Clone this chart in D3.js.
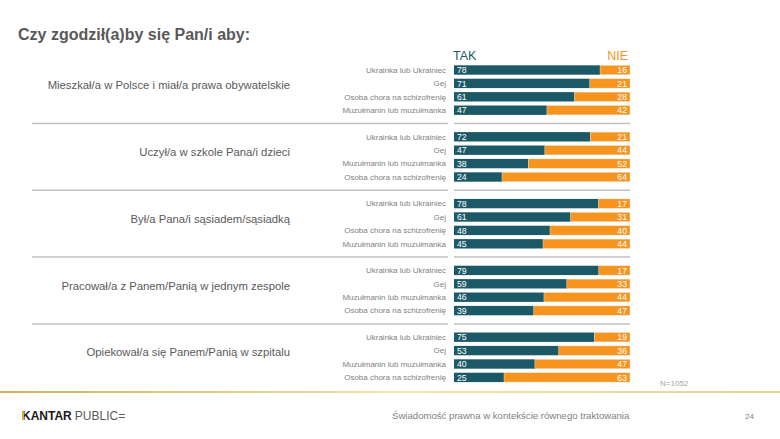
<!DOCTYPE html>
<html>
<head>
<meta charset="utf-8">
<script src="https://cdn.jsdelivr.net/npm/d3@7"></script>
<style>
html,body{margin:0;padding:0;background:#fff;}
svg{display:block;font-family:"Liberation Sans",Arial,sans-serif;}
</style>
</head>
<body>
<svg id="chart" width="780" height="439"></svg>
<script>
const title = "Czy zgodził(a)by się Pan/i aby:";
const groupLabels = [
  "Mieszkał/a w Polsce i miał/a prawa obywatelskie",
  "Uczył/a w szkole Pana/i dzieci",
  "Był/a Pana/i sąsiadem/sąsiadką",
  "Pracował/a z Panem/Panią w jednym zespole",
  "Opiekował/a się Panem/Panią w szpitalu"
];
const rowLabels = [
  ["Ukrainka lub Ukrainiec","Gej","Osoba chora na schizofrenię","Muzułmanin lub muzułmanka"],
  ["Ukrainka lub Ukrainiec","Gej","Muzułmanin lub muzułmanka","Osoba chora na schizofrenię"],
  ["Ukrainka lub Ukrainiec","Gej","Osoba chora na schizofrenię","Muzułmanin lub muzułmanka"],
  ["Ukrainka lub Ukrainiec","Gej","Muzułmanin lub muzułmanka","Osoba chora na schizofrenię"],
  ["Ukrainka lub Ukrainiec","Gej","Muzułmanin lub muzułmanka","Osoba chora na schizofrenię"]
];
const takValues = [
  [78,71,61,47],
  [72,47,38,24],
  [78,61,48,45],
  [79,59,46,39],
  [75,53,40,25]
];
const nieValues = [
  [16,21,28,42],
  [21,44,52,64],
  [17,31,40,44],
  [17,33,44,47],
  [19,36,47,63]
];
const seriesNames = ["TAK","NIE"];
const sampleNote = "N=1052";
const footerText = "Świadomość prawna w kontekście równego traktowania";
const pageNumber = "24";

const TEAL = "#1c5966", ORANGE = "#f7941d";
const svg = d3.select("#chart");

const defs = svg.append("defs");
const grad = defs.append("linearGradient").attr("id","gold").attr("x1","0").attr("x2","1");
grad.append("stop").attr("offset","0").attr("stop-color","#cfb25a");
grad.append("stop").attr("offset","0.5").attr("stop-color","#f2e2a6");
grad.append("stop").attr("offset","1").attr("stop-color","#ead690");

svg.append("text").attr("x",18).attr("y",40).attr("font-size",16).attr("font-weight","bold")
  .attr("fill","#595959").text(title);

const x = d3.scaleLinear().domain([0,1]).range([454,630]);
const gScale = d3.scaleBand().domain(d3.range(groupLabels.length)).range([63.3, 63.3 + 66.8*5]);
const rScale = d3.scaleBand().domain(d3.range(4)).range([0, 13.4*4]).paddingInner(0.3).paddingOuter(0.15);

svg.append("text").attr("x",x(0)-1).attr("y",60).attr("font-size",12.5).attr("fill",TEAL).text(seriesNames[0]);
svg.append("text").attr("x",x(1)-2).attr("y",60).attr("font-size",12.5).attr("fill",ORANGE)
  .attr("text-anchor","end").text(seriesNames[1]);

const rows = [];
groupLabels.forEach((g,gi)=>{
  rowLabels[gi].forEach((r,ri)=>{
    const t = takValues[gi][ri], n = nieValues[gi][ri];
    rows.push({gi, ri, label:r, tak:t, nie:n, share:t/(t+n)});
  });
});
const yTop = d => gScale(d.gi) + rScale(d.ri);
const bh = rScale.bandwidth();

for (let gi=0; gi<groupLabels.length-1; gi++){
  const lastBottom = gScale(gi) + rScale(3) + bh;
  const nextTop = gScale(gi+1) + rScale(0);
  const yy = (lastBottom + nextTop)/2;
  svg.append("line").attr("x1",32).attr("x2",448).attr("y1",yy).attr("y2",yy)
    .attr("stroke","#bfbfbf").attr("stroke-width",1.5);
  svg.append("line").attr("x1",454).attr("x2",630).attr("y1",yy).attr("y2",yy)
    .attr("stroke","#bfbfbf").attr("stroke-width",1.5);
}

svg.selectAll("text.group").data(groupLabels).join("text").attr("class","group")
  .attr("x",290)
  .attr("y",(d,i)=> gScale(i) + (rScale(0) + rScale(3) + bh)/2 - 1)
  .attr("text-anchor","end").attr("font-size",11.3).attr("fill","#595959").text(d=>d);

svg.selectAll("text.row").data(rows).join("text").attr("class","row")
  .attr("x",446).attr("y",d=>yTop(d)+bh/2+2.8)
  .attr("text-anchor","end").attr("font-size",8).attr("fill","#7f7f7f").text(d=>d.label);

svg.selectAll("rect.tak").data(rows).join("rect").attr("class","tak")
  .attr("x",x(0)).attr("y",yTop).attr("height",bh)
  .attr("width",d=>x(d.share)-x(0)).attr("fill",TEAL);
svg.selectAll("rect.nie").data(rows).join("rect").attr("class","nie")
  .attr("x",d=>x(d.share)).attr("y",yTop).attr("height",bh)
  .attr("width",d=>x(1)-x(d.share)).attr("fill",ORANGE)
  .attr("stroke","#e9edf0").attr("stroke-width",0.4);

svg.selectAll("text.tv").data(rows).join("text").attr("class","tv")
  .attr("x",x(0)+3).attr("y",d=>yTop(d)+bh/2+3.1)
  .attr("font-size",8.7).attr("fill","#fff").text(d=>d.tak);
svg.selectAll("text.nv").data(rows).join("text").attr("class","nv")
  .attr("x",x(1)-3).attr("y",d=>yTop(d)+bh/2+3.1).attr("text-anchor","end")
  .attr("font-size",8.7).attr("fill","#fff").text(d=>d.nie);

svg.append("text").attr("x",660).attr("y",386).attr("font-size",8).attr("fill","#a6a6a6").text(sampleNote);

svg.append("rect").attr("x",0).attr("y",391).attr("width",780).attr("height",2).attr("fill","url(#gold)");

const logo = svg.append("text").attr("x",22).attr("y",420).attr("font-size",12);
logo.append("tspan").attr("font-weight","bold").attr("fill","#1a1a1a").text("KANTAR");
logo.append("tspan").attr("fill","#595959").attr("dx",3).text("PUBLIC=");
svg.append("rect").attr("x",22.2).attr("y",411.3).attr("width",1.9).attr("height",8.7).attr("fill","#d8ac2a");

svg.append("text").attr("x",392).attr("y",419).attr("font-size",9.6).attr("fill","#7f7f7f").text(footerText);
svg.append("text").attr("x",745).attr("y",419).attr("font-size",8).attr("fill","#7f7f7f").text(pageNumber);
</script>
</body>
</html>
